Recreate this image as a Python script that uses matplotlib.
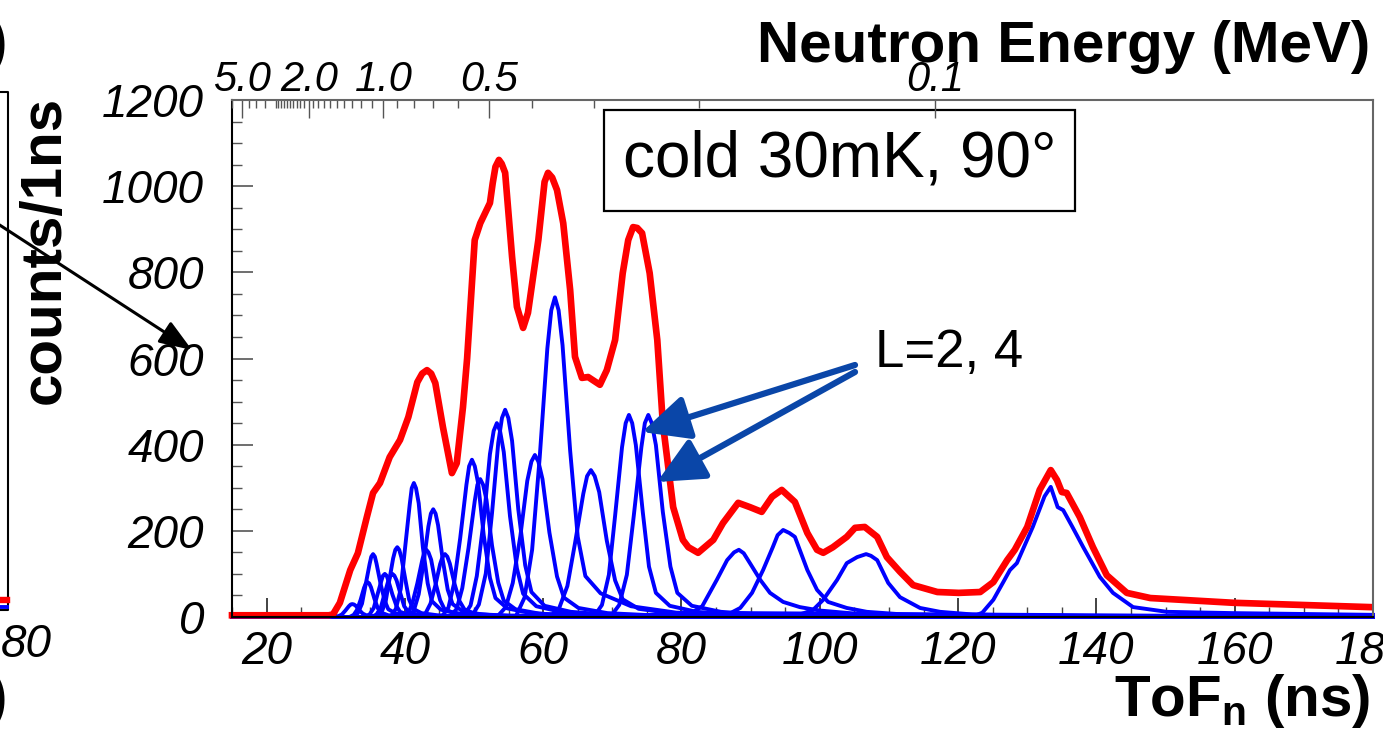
import numpy as np
import matplotlib.pyplot as plt
from matplotlib.patches import Rectangle

plt.rcParams['font.family'] = ['Liberation Sans', 'DejaVu Sans']
plt.rcParams['mathtext.fontset'] = 'custom'
plt.rcParams['mathtext.rm'] = 'Liberation Sans'
plt.rcParams['mathtext.bf'] = 'Liberation Sans:bold'

# -----------------------------
# Summed spectrum (red), ToF [ns] vs counts/1ns
# -----------------------------
tof_total = [15.0, 29.0, 29.6, 30.6, 32.1, 33.2, 34.5, 35.4, 36.4, 37.8, 39.3, 40.5,
             41.8, 42.5, 43.2, 43.8, 44.4, 45.5, 46.8, 47.5, 48.4, 49.0, 50.1, 50.9,
             52.3, 52.7, 53.1, 53.6, 54.0, 54.5, 55.5, 56.2, 57.1, 57.8, 59.3, 60.2,
             60.7, 61.3, 62.0, 62.9, 63.9, 64.6, 65.6, 66.5, 68.2, 69.2, 70.4, 71.5,
             72.3, 73.0, 73.6, 74.3, 75.4, 76.5, 77.3, 78.8, 80.2, 81.0, 82.4, 84.6,
             86.0, 88.2, 89.9, 91.6, 93.1, 94.5, 96.4, 98.2, 99.6, 100.5, 101.9, 103.9,
             105.1, 106.5, 108.3, 109.7, 111.6, 113.5, 117.0, 120.1, 123.2, 125.1, 127.1,
             128.2, 130.0, 131.8, 133.4, 134.3, 135.0, 135.7, 137.6, 139.5, 141.5, 144.4,
             147.8, 159.8, 179.5]
counts_total = [4, 4, 6, 33, 109, 148, 232, 288, 311, 371, 411, 464,
                545, 565, 573, 565, 543, 441, 334, 357, 487, 600, 875, 914,
                961, 1007, 1045, 1061, 1052, 1031, 836, 720, 671, 706, 875, 1010,
                1031, 1020, 991, 914, 759, 604, 555, 557, 539, 573, 643, 798,
                875, 905, 903, 891, 798, 643, 450, 255, 179, 162, 149, 179,
                218, 265, 255, 244, 279, 295, 267, 195, 156, 149, 162, 186,
                207, 209, 186, 139, 105, 74, 58, 56, 58, 81, 132,
                156, 209, 295, 341, 318, 290, 288, 232, 162, 97, 56,
                44, 33, 23]

# -----------------------------
# Individual resonance components (blue)
# -----------------------------
p32_t = [15, 29.8, 30.4, 30.9, 31.4, 31.9, 32.16, 32.4, 32.64, 32.9, 33.4, 33.9, 34.4, 35.4, 37.4, 40.4, 180]
p32_y = [0, 0, 2, 6, 15, 25, 29, 30, 29, 26, 16, 8, 4, 2, 1, 0, 0]
p34_t = [15, 32.0, 32.6, 33.1, 33.6, 34.1, 34.36, 34.6, 34.84, 35.1, 35.6, 36.1, 36.6, 37.6, 39.6, 42.6, 180]
p34_y = [0, 0, 5, 17, 40, 68, 78, 81, 78, 69, 42, 20, 10, 4, 2, 1, 0]
p35_t = [15, 32.5, 33.2, 33.8, 34.3, 34.9, 35.14, 35.4, 35.66, 35.9, 36.5, 37.1, 37.6, 38.7, 40.9, 44.2, 180]
p35_y = [0, 0, 9, 31, 73, 123, 140, 146, 140, 124, 76, 37, 18, 8, 4, 1, 0]
p37_t = [15, 34.2, 34.9, 35.5, 36.0, 36.6, 36.84, 37.1, 37.36, 37.6, 38.2, 38.8, 39.3, 40.4, 42.6, 45.9, 180]
p37_y = [0, 0, 6, 21, 50, 84, 96, 100, 96, 85, 52, 25, 12, 6, 3, 1, 0]
p38_t = [15, 35.2, 35.9, 36.5, 37.0, 37.6, 37.92, 38.2, 38.48, 38.8, 39.4, 39.9, 40.5, 41.7, 44.0, 47.4, 180]
p38_y = [0, 0, 6, 21, 50, 84, 96, 100, 96, 85, 52, 25, 12, 6, 3, 1, 0]
p39_t = [15, 35.9, 36.6, 37.2, 37.7, 38.3, 38.62, 38.9, 39.18, 39.5, 40.1, 40.6, 41.2, 42.4, 44.7, 48.1, 180]
p39_y = [0, 0, 10, 34, 81, 136, 156, 162, 156, 138, 84, 41, 19, 9, 4, 2, 0]
p41_t = [15, 37.9, 38.7, 39.4, 40.0, 40.7, 40.99, 41.3, 41.61, 42.0, 42.6, 43.3, 43.9, 45.2, 47.8, 51.7, 180]
p41_y = [0, 0, 19, 65, 156, 261, 299, 311, 299, 264, 162, 78, 37, 17, 8, 3, 0]
p43_t = [15, 39.7, 40.5, 41.1, 41.8, 42.5, 42.79, 43.1, 43.41, 43.8, 44.4, 45.1, 45.7, 47.0, 49.6, 53.5, 180]
p43_y = [0, 0, 9, 33, 78, 131, 150, 156, 150, 133, 81, 39, 19, 9, 4, 2, 0]
p44_t = [15, 40.5, 41.3, 42.0, 42.7, 43.4, 43.76, 44.1, 44.44, 44.8, 45.5, 46.2, 46.9, 48.3, 51.1, 55.3, 180]
p44_y = [0, 0, 15, 53, 125, 210, 240, 250, 240, 213, 130, 63, 30, 14, 6, 3, 0]
p46_t = [15, 42.2, 43.0, 43.7, 44.4, 45.1, 45.46, 45.8, 46.14, 46.5, 47.2, 47.9, 48.6, 50.0, 52.8, 57.0, 180]
p46_y = [0, 0, 9, 31, 73, 123, 140, 146, 140, 124, 76, 37, 18, 8, 4, 1, 0]
p50_t = [15, 45.3, 46.3, 47.1, 48.0, 48.9, 49.29, 49.7, 50.11, 50.6, 51.4, 52.3, 53.1, 54.8, 58.2, 63.3, 180]
p50_y = [0, 0, 22, 77, 183, 307, 350, 365, 350, 310, 190, 91, 44, 20, 9, 4, 0]
p51_t = [15, 46.5, 47.5, 48.3, 49.2, 50.1, 50.49, 50.9, 51.31, 51.8, 52.6, 53.5, 54.3, 56.0, 59.4, 64.5, 180]
p51_y = [0, 0, 19, 67, 160, 269, 307, 320, 307, 272, 166, 80, 38, 18, 8, 3, 0]
p53_t = [15, 48.4, 49.5, 50.4, 51.4, 52.3, 52.84, 53.3, 53.76, 54.3, 55.2, 56.2, 57.1, 59.0, 62.8, 68.5, 180]
p53_y = [0, 0, 27, 95, 225, 378, 432, 450, 432, 383, 234, 113, 54, 25, 11, 5, 0]
p55_t = [15, 49.6, 50.7, 51.7, 52.6, 53.5, 54.04, 54.5, 54.96, 55.5, 56.4, 57.4, 58.3, 60.2, 64.0, 69.7, 180]
p55_y = [0, 0, 29, 101, 241, 404, 462, 481, 462, 409, 250, 120, 58, 26, 12, 5, 0]
p59_t = [15, 53.3, 54.6, 55.6, 56.7, 57.7, 58.3, 58.8, 59.3, 59.9, 60.9, 62.0, 63.0, 65.1, 69.3, 75.6, 180]
p59_y = [0, 0, 23, 79, 188, 316, 361, 376, 361, 320, 196, 94, 45, 21, 9, 4, 0]
p62_t = [15, 56.0, 57.3, 58.4, 59.5, 60.6, 61.17, 61.7, 62.23, 62.8, 63.9, 65.0, 66.1, 68.3, 72.7, 79.3, 180]
p62_y = [0, 0, 45, 156, 371, 623, 712, 742, 712, 631, 386, 186, 95, 55, 25, 10, 0]
p67_t = [15, 60.9, 62.3, 63.5, 64.6, 65.8, 66.35, 66.9, 67.45, 68.1, 69.2, 70.4, 71.5, 73.8, 78.4, 85.3, 180]
p67_y = [0, 0, 20, 72, 171, 286, 327, 341, 327, 290, 177, 85, 41, 19, 9, 3, 0]
p72_t = [15, 67.3, 68.5, 69.5, 70.4, 71.4, 71.93, 72.4, 72.87, 73.4, 74.4, 75.3, 76.3, 78.3, 82.2, 88.0, 180]
p72_y = [0, 0, 28, 98, 235, 394, 450, 469, 450, 399, 244, 117, 56, 26, 12, 5, 0]
p75_t = [15, 69.7, 71.0, 72.1, 73.1, 74.2, 74.7, 75.2, 75.7, 76.3, 77.3, 78.4, 79.4, 81.5, 85.7, 92.0, 180]
p75_y = [0, 0, 28, 98, 235, 394, 450, 469, 450, 399, 244, 117, 56, 26, 12, 5, 0]
p88_t = [15, 80.5, 83.0, 85.1, 86.6, 87.6, 88.3, 89.0, 89.9, 91.4, 92.8, 94.7, 97.1, 100.0, 105.0, 112.0, 180]
p88_y = [0, 0, 25, 86, 132, 150, 156, 148, 125, 86, 56, 35, 23, 15, 8, 3, 0]
p95_t = [15, 86.0, 88.5, 90.2, 91.8, 93.2, 93.9, 94.7, 95.6, 96.4, 98.2, 99.6, 101.2, 103.9, 106.8, 112.0, 120.0, 180]
p95_y = [0, 0, 21, 56, 109, 162, 190, 202, 195, 186, 109, 63, 35, 21, 12, 6, 3, 0]
p107_t = [15, 96.0, 99.0, 100.5, 102.5, 103.9, 105.4, 106.7, 107.4, 108.3, 109.9, 111.6, 114.5, 117.4, 122.0, 130.0, 180]
p107_y = [0, 0, 16, 40, 86, 125, 139, 146, 142, 132, 79, 46, 21, 12, 6, 3, 0]
p133_t = [15, 122.0, 123.5, 125.1, 126.5, 127.5, 128.5, 130.8, 132.5, 133.4, 134.4, 135.2, 136.5,
          138.1, 140.5, 142.4, 145.3, 150.2, 159.8, 180]
p133_y = [0, 0, 10, 40, 80, 109, 125, 209, 280, 302, 255, 248, 210,
          162, 93, 56, 23, 12, 9, 5]

blue_peaks = [(p32_t, p32_y), (p34_t, p34_y), (p35_t, p35_y), (p37_t, p37_y),
              (p38_t, p38_y), (p39_t, p39_y), (p41_t, p41_y), (p43_t, p43_y),
              (p44_t, p44_y), (p46_t, p46_y), (p50_t, p50_y), (p51_t, p51_y),
              (p53_t, p53_y), (p55_t, p55_y), (p59_t, p59_y), (p62_t, p62_y),
              (p67_t, p67_y), (p72_t, p72_y), (p75_t, p75_y), (p88_t, p88_y),
              (p95_t, p95_y), (p107_t, p107_y), (p133_t, p133_y)]

x_ticks = [20, 40, 60, 80, 100, 120, 140, 160, 180]
y_ticks = [0, 200, 400, 600, 800, 1000, 1200]

# neutron energy axis (top): ToF at 1 MeV for this flight path
T_1MEV = 36.9
energy_major = [5.0, 2.0, 1.0, 0.5, 0.1]
energy_major_labels = ["5.0", "2.0", "1.0", "0.5", "0.1"]
energy_minor = [6.0, 4.5, 4.0, 3.5, 3.0, 2.9, 2.8, 2.7, 2.6, 2.5, 2.4, 2.3, 2.2, 2.1,
                1.9, 1.8, 1.7, 1.6, 1.5, 1.4, 1.3, 1.2, 1.1,
                0.9, 0.8, 0.7, 0.6, 0.4, 0.3, 0.2]


def energy_to_tof(e):
    return T_1MEV / np.sqrt(np.asarray(e))


W, H = 1383, 735
fig = plt.figure(figsize=(W / 100, H / 100), dpi=100)
ax = fig.add_axes([232 / W, 118 / H, 1141 / W, 517 / H])

for t, y in blue_peaks:
    ax.plot(t, y, color='#0000ff', lw=2.8, clip_on=False, solid_joinstyle='round')
ax.plot(tof_total, counts_total, color='#ff0000', lw=4.8, clip_on=False,
        solid_joinstyle='round')

ax.set_xlim(15, 180)
ax.set_ylim(0, 1200)
ax.set_xticks(x_ticks, labels=[str(v) for v in x_ticks], fontsize=33, fontstyle='italic')
ax.set_yticks(y_ticks, labels=[str(v) for v in y_ticks], fontsize=33, fontstyle='italic')
ax.set_xticks(np.arange(15, 181, 5), minor=True)
ax.set_yticks(np.arange(0, 1201, 50), minor=True)
ax.tick_params(axis='x', which='major', direction='in', length=14, width=1.2, pad=9, color='#222222')
ax.tick_params(axis='x', which='minor', direction='in', length=7, width=1.0, color='#444444')
ax.tick_params(axis='y', which='major', direction='in', length=15, width=1.2, pad=20, color='#555555')
ax.tick_params(axis='y', which='minor', direction='in', length=7, width=1.0, color='#555555')
for side in ['left', 'bottom']:
    ax.spines[side].set_linewidth(1.5)
ax.spines['top'].set_visible(False)
ax.spines['right'].set_color('#666666')
ax.spines['right'].set_linewidth(1.5)

# top energy axis
top = ax.twiny()
top.set_xlim(ax.get_xlim())
top.set_xticks(energy_to_tof(energy_major), labels=energy_major_labels,
               fontsize=30, fontstyle='italic')
top.set_xticks(energy_to_tof(energy_minor), minor=True)
top.tick_params(axis='x', which='major', direction='in', length=13, width=1.0, pad=0, color='#555555')
top.tick_params(axis='x', which='minor', direction='in', length=6, width=1.0, color='#555555')
for side in ['left', 'right', 'bottom']:
    top.spines[side].set_visible(False)
top.spines['top'].set_color('#666666')
top.spines['top'].set_linewidth(1.5)

# annotation box
ax.add_patch(Rectangle((0.326, 0.785), 0.413, 0.195, transform=ax.transAxes,
                       fill=False, lw=1.6, ec='black', zorder=5))
ax.text(0.5325, 0.884, "cold 30mK, 90°", transform=ax.transAxes, fontsize=46,
        ha='center', va='center', zorder=6)

fig.text(875 / W, 1 - 367 / H, "L=2, 4", fontsize=38, ha='left', va='baseline')

arrow_kw = dict(arrowstyle='-|>,head_length=0.95,head_width=0.45', color='#0a46a8',
                lw=4.5, mutation_scale=30, shrinkA=0, shrinkB=0)
ax.annotate("", xy=(642 / W, 1 - 432 / H), xytext=(855 / W, 1 - 365 / H),
            xycoords='figure fraction', textcoords='figure fraction',
            arrowprops=arrow_kw, zorder=7)
ax.annotate("", xy=(657 / W, 1 - 482 / H), xytext=(855 / W, 1 - 372 / H),
            xycoords='figure fraction', textcoords='figure fraction',
            arrowprops=arrow_kw, zorder=7)

# axis titles
fig.text(1370 / W, 1 - 62 / H, "Neutron Energy (MeV)", fontsize=42, fontweight='bold',
         ha='right', va='baseline')
fig.text(1370 / W, 1 - 716 / H, r"ToF$_{\mathbf{n}}$ (ns)", fontsize=42, fontweight='bold',
         ha='right', va='baseline')
fig.text(45 / W, 1 - 250 / H, "counts/1ns", fontsize=42, fontweight='bold',
         rotation=90, ha='center', va='center')

# remnants of the neighbouring panel on the left
fig.add_artist(plt.Line2D([0, 8 / W, 8 / W, 0], [1 - 92 / H, 1 - 92 / H, 1 - 610 / H, 1 - 610 / H],
                          color='black', lw=1.5))
fig.add_artist(plt.Line2D([0, 7 / W], [1 - 600 / H, 1 - 600 / H], color='#ff0000', lw=4.6))
fig.add_artist(plt.Line2D([0, 7 / W], [1 - 607 / H, 1 - 607 / H], color='#0000ff', lw=2.8))
fig.text(52 / W, 1 - 645 / H, "80", fontsize=33, fontstyle='italic', ha='right', va='center')
fig.text(7 / W, 1 - 45 / H, ")", fontsize=42, fontweight='bold', ha='right', va='center')
fig.text(7 / W, 1 - 700 / H, ")", fontsize=42, fontweight='bold', ha='right', va='center')
ax.annotate("", xy=(192 / W, 1 - 350 / H), xytext=(-5 / W, 1 - 222 / H),
            xycoords='figure fraction', textcoords='figure fraction',
            arrowprops=dict(arrowstyle='-|>,head_length=0.8,head_width=0.3', color='black',
                            lw=2.2, mutation_scale=25, shrinkA=0, shrinkB=0))

fig.savefig("out.png", dpi=100)
